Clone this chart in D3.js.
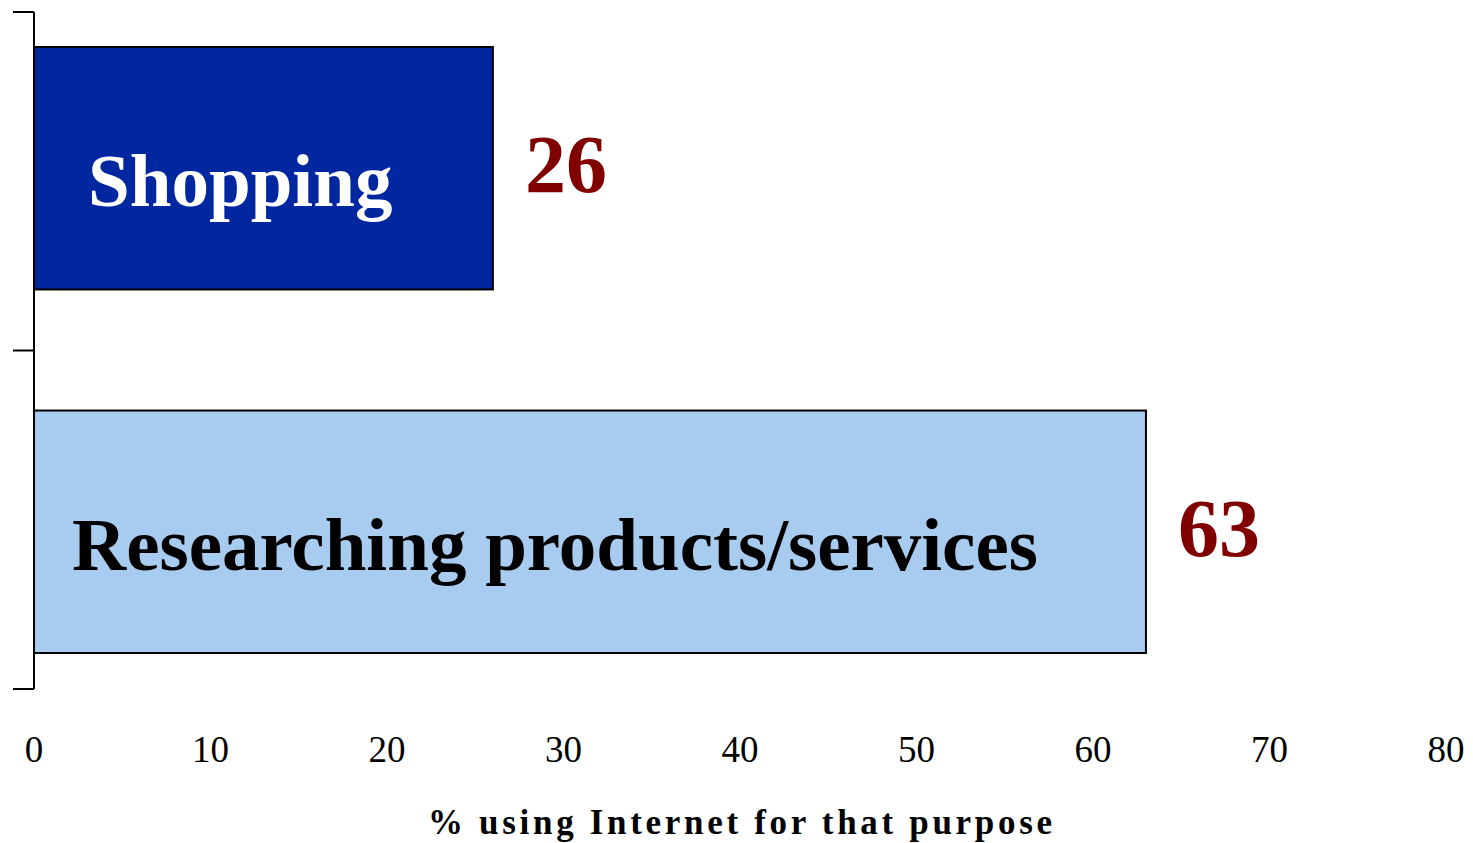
<!DOCTYPE html>
<html><head><meta charset="utf-8">
<script src="https://cdn.jsdelivr.net/npm/d3@7"></script>
<style>body{margin:0;background:#fff}svg{display:block}</style>
</head><body>
<svg id="c" width="1473" height="843"></svg>
<script>
const categories = ["Shopping", "Researching products/services"];
const values = [26, 63];
const barColors = ["#0026A0", "#A8CBF0"];
const labelColors = ["#ffffff", "#000000"];
const xTicks = [0, 10, 20, 30, 40, 50, 60, 70, 80];
const xTitle = "% using Internet for that purpose";

const svg = d3.select("#c");
const serif = "'Liberation Serif','Times New Roman',serif";
const x = d3.scaleLinear().domain([0, 80]).range([34, 1446]);
const yAxisBand = d3.scaleBand().domain(categories).range([12, 689]);
const yBar = d3.scaleBand().domain(categories).range([47, 653]).paddingInner(0.333).paddingOuter(0);

// bars
svg.selectAll("rect.bar").data(categories).join("rect")
  .attr("x", x(0)).attr("y", d => yBar(d))
  .attr("width", (d, i) => x(values[i]) - x(0))
  .attr("height", yBar.bandwidth())
  .attr("fill", (d, i) => barColors[i])
  .attr("stroke", "#000").attr("stroke-width", 2);

// category labels inside bars
const labelX = [88, 72];
svg.selectAll("text.cat").data(categories).join("text")
  .attr("x", (d, i) => labelX[i])
  .attr("y", d => yBar(d) + yBar.bandwidth() / 2 + 38)
  .attr("font-family", serif).attr("font-weight", "bold").attr("font-size", 75)
  .attr("fill", (d, i) => labelColors[i])
  .text(d => d);

// value labels
svg.selectAll("text.val").data(categories).join("text")
  .attr("x", (d, i) => x(values[i]) + 32)
  .attr("y", d => yBar(d) + yBar.bandwidth() / 2 + 24)
  .attr("font-family", serif).attr("font-weight", "bold").attr("font-size", 82)
  .attr("fill", "#800000")
  .text((d, i) => values[i]);

// y axis line and boundary ticks
const yAxisG = svg.append("g");
yAxisG.append("line").attr("x1", 34).attr("x2", 34).attr("y1", 12).attr("y2", 689)
  .attr("stroke", "#000").attr("stroke-width", 2);
const bounds = [yAxisBand(categories[0]), yAxisBand(categories[1]), yAxisBand(categories[1]) + yAxisBand.bandwidth()];
yAxisG.selectAll("line.t").data(bounds).join("line")
  .attr("x1", 13).attr("x2", 34).attr("y1", d => d).attr("y2", d => d)
  .attr("stroke", "#000").attr("stroke-width", 2);

// x tick labels (no axis line)
svg.selectAll("text.xt").data(xTicks).join("text")
  .attr("x", d => x(d)).attr("y", 762)
  .attr("text-anchor", "middle")
  .attr("font-family", serif).attr("font-size", 37)
  .attr("fill", "#000").text(d => d);

// x title
svg.append("text").attr("x", 428).attr("y", 834)
  .attr("font-family", serif).attr("font-weight", "bold").attr("font-size", 35)
  .attr("textLength", 624).attr("lengthAdjust", "spacing")
  .attr("fill", "#000").text(xTitle);
</script>
</body></html>
